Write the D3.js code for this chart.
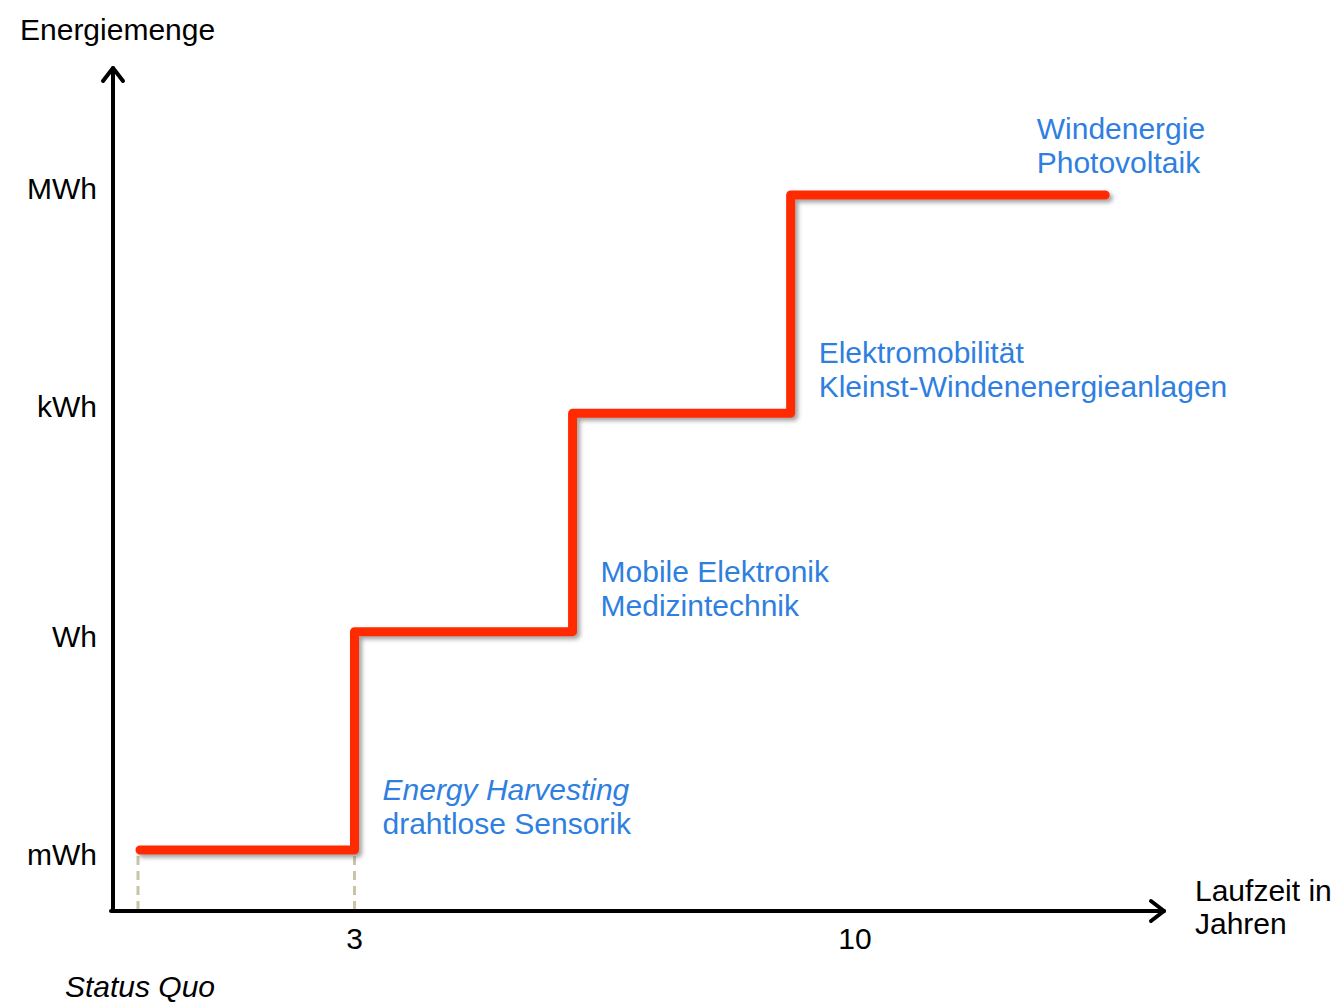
<!DOCTYPE html>
<html>
<head>
<meta charset="utf-8">
<script src="https://cdn.jsdelivr.net/npm/d3@7"></script>
<style>
  html, body { margin: 0; padding: 0; background: #ffffff; }
  svg { display: block; font-family: "Liberation Sans", Arial, Helvetica, sans-serif; }
</style>
</head>
<body>
<svg id="chart" width="1334" height="1005"></svg>
<script>
// Energy levels on the vertical axis (ordinal, bottom to top)
const levels = ["mWh", "Wh", "kWh", "MWh"];

// Step path: years (runtime) and the energy level reached
const stepYears  = [0, 3, 6.05, 9.1, 13.5];
const stepLevels = ["mWh", "Wh", "kWh", "MWh", "MWh"];

// Labelled x ticks
const xTickValues = [3, 10];
const xTickLabels = ["3", "10"];

// Application areas for each level
const annoYears  = [3, 6.05, 9.1, 12.15];
const annoLevels = ["mWh", "Wh", "kWh", "MWh"];
const annoLine1  = ["Energy Harvesting", "Mobile Elektronik", "Elektromobilität", "Windenergie"];
const annoLine2  = ["drahtlose Sensorik", "Medizintechnik", "Kleinst-Windenenergieanlagen", "Photovoltaik"];
const annoItalic = [true, false, false, false];

// Dashed guides down to the x axis
const guideYears = [0, 3];

const svg = d3.select("#chart");

const originX = 113, originY = 911;
const fontSize = 30;
const x = d3.scaleLinear().domain([0, 10]).range([140, 855]);
const y = d3.scalePoint().domain(levels).range([850, 195]);

const black = "#000000";
const red = "#ff2a00";
const blue = "#2f7fe0";

// drop shadow for the step line
const defs = svg.append("defs");
const f = defs.append("filter").attr("id", "shadow")
  .attr("x", "-10%").attr("y", "-10%").attr("width", "130%").attr("height", "130%");
f.append("feDropShadow").attr("dx", 3).attr("dy", 3).attr("stdDeviation", 2)
  .attr("flood-color", "#555555").attr("flood-opacity", 0.55);

// dashed guides
svg.selectAll("line.guide").data(guideYears).join("line")
  .attr("class", "guide")
  .attr("x1", d => x(d) - (d === 0 ? 2 : 0)).attr("x2", d => x(d) - (d === 0 ? 2 : 0))
  .attr("y1", y("mWh") + 6).attr("y2", originY - 2)
  .attr("stroke", "#c9c4a6").attr("stroke-width", 3)
  .attr("stroke-dasharray", "9,6");

// axes with open arrowheads
const axisG = svg.append("g").attr("fill", "none").attr("stroke", black)
  .attr("stroke-width", 4).attr("stroke-linecap", "round").attr("stroke-linejoin", "round");
axisG.append("line").attr("x1", originX).attr("y1", originY).attr("x2", originX).attr("y2", 68);
axisG.append("path").attr("d", `M${originX - 10},${81} L${originX},${68} L${originX + 10},${81}`);
axisG.append("line").attr("x1", originX - 2).attr("y1", originY).attr("x2", 1164).attr("y2", originY);
axisG.append("path").attr("d", `M${1151},${originY - 10} L${1164},${originY} L${1151},${originY + 10}`);

// y tick labels
svg.selectAll("text.ylab").data(levels).join("text")
  .attr("class", "ylab")
  .attr("x", 97).attr("y", (d, i) => y(d) + 10 + (i < 2 ? 5 : -6))
  .attr("text-anchor", "end").attr("font-size", fontSize).attr("fill", black)
  .text(d => d);

// x tick labels
svg.selectAll("text.xlab").data(xTickValues).join("text")
  .attr("class", "xlab")
  .attr("x", d => x(d)).attr("y", 949)
  .attr("text-anchor", "middle").attr("font-size", fontSize).attr("fill", black)
  .text((d, i) => xTickLabels[i]);

// status quo label at year 0
svg.append("text").attr("x", x(0)).attr("y", 997)
  .attr("text-anchor", "middle").attr("font-size", fontSize).attr("font-style", "italic")
  .attr("fill", black).text("Status Quo");

// axis titles
svg.append("text").attr("x", 20).attr("y", 40).attr("font-size", fontSize).attr("fill", black)
  .text("Energiemenge");
const xt = svg.append("text").attr("x", 1195).attr("font-size", fontSize).attr("fill", black);
xt.append("tspan").attr("x", 1195).attr("y", 901).text("Laufzeit in");
xt.append("tspan").attr("x", 1195).attr("y", 934).text("Jahren");

// the step line
const pts = stepYears.map((yr, i) => [x(yr), y(stepLevels[i])]);
svg.append("path")
  .attr("d", d3.line().curve(d3.curveStepAfter)(pts))
  .attr("fill", "none").attr("stroke", red).attr("stroke-width", 9)
  .attr("stroke-linecap", "round").attr("stroke-linejoin", "round")
  .attr("filter", "url(#shadow)");

// application labels
annoYears.forEach((yr, i) => {
  const t = svg.append("text")
    .attr("font-size", fontSize).attr("fill", blue)
    .attr("font-style", annoItalic[i] ? "italic" : "normal");
  const ax = x(yr) + 28;
  const base = y(annoLevels[i]) - (i === 3 ? 56 : 50);
  t.append("tspan").attr("x", ax).attr("y", base).text(annoLine1[i]);
  t.append("tspan").attr("x", ax).attr("y", base + 34)
    .attr("font-style", "normal").text(annoLine2[i]);
});
</script>
</body>
</html>
